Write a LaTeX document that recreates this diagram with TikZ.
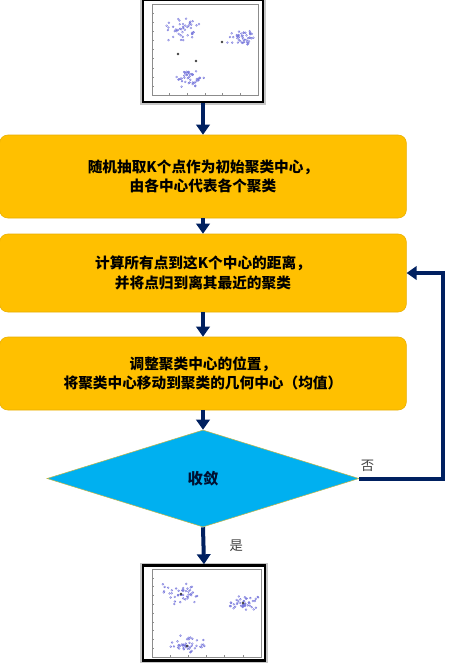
\documentclass[tikz,border=0pt]{standalone}
\usepackage{fontspec}
\newfontfamily\cjk{Noto Sans CJK SC}
\usetikzlibrary{arrows.meta,positioning,shapes.geometric}
\definecolor{gold}{RGB}{255,192,0}
\definecolor{goldline}{RGB}{232,174,0}
\definecolor{cyanfill}{RGB}{0,176,240}
\definecolor{navy}{RGB}{0,32,96}
\definecolor{dotblue}{RGB}{120,120,220}
\tikzset{
  stepbox/.style={draw=goldline, fill=gold, rounded corners=6pt, align=center, font=\cjk\bfseries\fontsize{11}{14.5}\selectfont, minimum width=305pt, inner sep=2pt},
  check/.style={draw=olive!60, fill=cyanfill, diamond, aspect=3.2, minimum width=234pt, minimum height=72.75pt, inner sep=0pt, font=\cjk\bfseries\fontsize{11.5}{13}\selectfont, text=navy!50!black},
  plotbox/.style={draw=black, line width=1.8pt, fill=white, preaction={draw=black!22, line width=4.2pt}},
  flow/.style={-{Triangle[width=10pt,length=7.5pt]}, line width=3pt, draw=navy},
  lbl/.style={font=\cjk\fontsize{10}{12}\selectfont, text=black!75, inner sep=1pt},
  axis/.style={draw=black!45, line width=0.3pt},
  pt/.style={draw=dotblue, line width=0.3pt},
  ctr/.style={fill=black!75},
}

\begin{document}
\begin{tikzpicture}[x=0.75pt,y=-0.75pt]
\useasboundingbox (0,0) rectangle (449,669);
\node[plotbox, minimum width=90pt, minimum height=76.5pt] (kmin) at (203,51) {};
\node[stepbox, minimum height=62.25pt] (init) at (203,176.5) {随机抽取K个点作为初始聚类中心，\\由各中心代表各个聚类};
\node[stepbox, minimum height=58.5pt] (assign) at (203,273) {计算所有点到这K个中心的距离，\\并将点归到离其最近的聚类};
\node[stepbox, minimum height=54.75pt] (update) at (203,373.5) {调整聚类中心的位置，\\将聚类中心移动到聚类的几何中心（均值）};
\node[check] (conv) at (203,478.5) {收敛};
\node[plotbox, minimum width=91.5pt, minimum height=71.25pt] (kmout) at (204,613) {};
\coordinate (loop) at (443,478.5);

\draw[axis] (152,4) rectangle (258,95);
\draw[axis] (152,569) rectangle (261,657);
\foreach \t in {0,...,6}{
  \draw[axis] (152+\t*17.67,95) -- ++(0,-2);
  \draw[axis] (152+\t*18.17,657) -- ++(0,-2);
}
\foreach \t in {0,...,10}{
  \draw[axis] (152,4+\t*9.1) -- ++(2,0);
  \draw[axis] (152,569+\t*8.8) -- ++(2,0);
}
\pgfmathsetseed{7}
\foreach \cx/\cy/\sx/\sy in {181/29/22/13, 242/38/17/9, 188/79/18/10, 182/594/22/13, 243/603/18/9, 187/645/19/10}{
  \foreach \k in {1,...,45}{
    \draw[pt] ({\cx+\sx*(rand+rand)/2},{\cy+\sy*(rand+rand)/2}) circle (0.7pt);
  }
}
\foreach \cx/\cy in {178/54, 196/61, 222/42, 181/594, 243/603, 187/646}{
  \fill[ctr] (\cx,\cy) circle (1pt);
}

\draw[flow] (kmin.south) -- (init.north);
\draw[flow] (init.south) -- (assign.north);
\draw[flow] (assign.south) -- (update.north);
\draw[flow] (update.south) -- (conv.north);
\draw[flow] (conv.south) -- node[lbl, right=17pt]{是} (kmout.north);
\draw[flow] (conv.east) -- (loop) |- (assign.east);
\node[lbl, above right=4pt and 0pt of conv.east] (no) {否};
\end{tikzpicture}
\end{document}
